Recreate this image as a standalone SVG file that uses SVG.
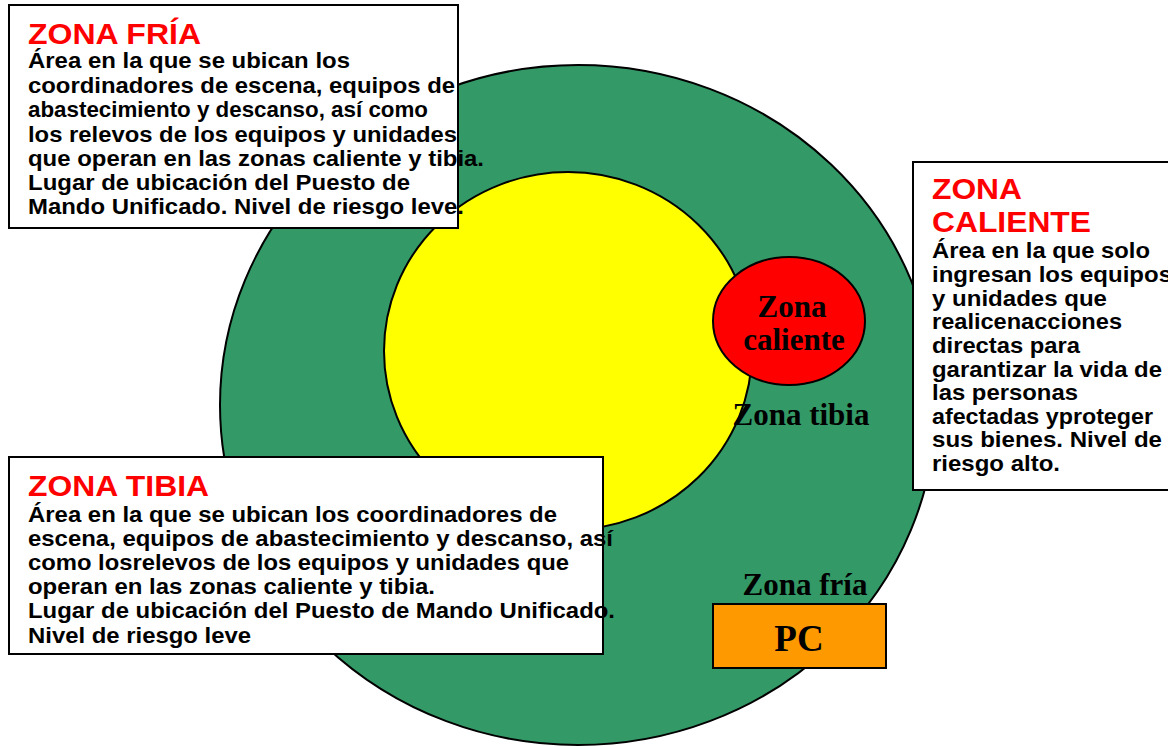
<svg xmlns="http://www.w3.org/2000/svg" width="1168" height="746" viewBox="0 0 1168 746">
<style>
.zone{stroke:#000;stroke-width:2}
.box{fill:#fff;stroke:#000;stroke-width:2}
.ttl{font-family:"Liberation Sans",Arial,sans-serif;font-weight:bold;font-size:29px;fill:#ff0000}
.body{font-family:"Liberation Sans",Arial,sans-serif;font-weight:bold;font-size:22px;fill:#000}
.lbl{font-family:"Liberation Serif","Times New Roman",serif;font-weight:bold;font-size:31px;fill:#000;text-anchor:middle}
</style>
<rect width="1168" height="746" fill="#fff"/>
<g id="zona-fria-circle"><ellipse class="zone" cx="578" cy="405" rx="358" ry="340" fill="#339966"/></g>
<g id="zona-tibia-circle"><ellipse class="zone" cx="568" cy="351" rx="184" ry="179" fill="#ffff00"/></g>
<g id="zona-caliente-node"><ellipse class="zone" cx="789" cy="321" rx="76" ry="64" fill="#ff0000"/>
<text class="lbl" x="792" y="317">Zona</text>
<text class="lbl" x="794" y="350">caliente</text></g>
<g id="label-tibia"><text class="lbl" x="801" y="425">Zona tibia</text></g>
<g id="label-fria"><text class="lbl" x="805" y="595">Zona fría</text></g>
<g id="pc"><rect x="713" y="604" width="173" height="64" fill="#ff9900" stroke="#000" stroke-width="2"/>
<text class="lbl" x="799" y="651" style="font-size:37px">PC</text></g>
<g id="box-fria">
<rect class="box" x="9" y="5" width="449" height="223"/>
<text class="ttl" x="28" y="44" textLength="173" lengthAdjust="spacingAndGlyphs">ZONA FRÍA</text>
<text class="body" x="28" y="68" textLength="322" lengthAdjust="spacingAndGlyphs">Área en la que se ubican los</text>
<text class="body" x="28" y="93" textLength="427" lengthAdjust="spacingAndGlyphs">coordinadores de escena, equipos de</text>
<text class="body" x="28" y="117" textLength="400" lengthAdjust="spacingAndGlyphs">abastecimiento y descanso, así como</text>
<text class="body" x="28" y="142" textLength="429" lengthAdjust="spacingAndGlyphs">los relevos de los equipos y unidades</text>
<text class="body" x="28" y="166" textLength="456" lengthAdjust="spacingAndGlyphs">que operan en las zonas caliente y tibia.</text>
<text class="body" x="28" y="190" textLength="382" lengthAdjust="spacingAndGlyphs">Lugar de ubicación del Puesto de</text>
<text class="body" x="28" y="214" textLength="436" lengthAdjust="spacingAndGlyphs">Mando Unificado. Nivel de riesgo leve.</text>
</g>
<g id="box-caliente">
<rect class="box" x="913" y="162" width="270" height="328"/>
<text class="ttl" x="932" y="199" textLength="90" lengthAdjust="spacingAndGlyphs">ZONA</text>
<text class="ttl" x="932" y="232" textLength="159" lengthAdjust="spacingAndGlyphs">CALIENTE</text>
<text class="body" x="932" y="258" textLength="218" lengthAdjust="spacingAndGlyphs">Área en la que solo</text>
<text class="body" x="932" y="282" textLength="240" lengthAdjust="spacingAndGlyphs">ingresan los equipos</text>
<text class="body" x="932" y="306" textLength="175" lengthAdjust="spacingAndGlyphs">y unidades que</text>
<text class="body" x="932" y="329" textLength="190" lengthAdjust="spacingAndGlyphs">realicenacciones</text>
<text class="body" x="932" y="353" textLength="148" lengthAdjust="spacingAndGlyphs">directas para</text>
<text class="body" x="932" y="377" textLength="230" lengthAdjust="spacingAndGlyphs">garantizar la vida de</text>
<text class="body" x="932" y="400" textLength="146" lengthAdjust="spacingAndGlyphs">las personas</text>
<text class="body" x="932" y="424" textLength="221" lengthAdjust="spacingAndGlyphs">afectadas yproteger</text>
<text class="body" x="932" y="447" textLength="230" lengthAdjust="spacingAndGlyphs">sus bienes. Nivel de</text>
<text class="body" x="932" y="471" textLength="128" lengthAdjust="spacingAndGlyphs">riesgo alto.</text>
</g>
<g id="box-tibia">
<rect class="box" x="9" y="457" width="594" height="197"/>
<text class="ttl" x="28" y="496" textLength="181" lengthAdjust="spacingAndGlyphs">ZONA TIBIA</text>
<text class="body" x="28" y="522" textLength="529" lengthAdjust="spacingAndGlyphs">Área en la que se ubican los coordinadores de</text>
<text class="body" x="28" y="546" textLength="585" lengthAdjust="spacingAndGlyphs">escena, equipos de abastecimiento y descanso, así</text>
<text class="body" x="28" y="570" textLength="541" lengthAdjust="spacingAndGlyphs">como losrelevos de los equipos y unidades que</text>
<text class="body" x="28" y="594" textLength="407" lengthAdjust="spacingAndGlyphs">operan en las zonas caliente y tibia.</text>
<text class="body" x="28" y="618" textLength="587" lengthAdjust="spacingAndGlyphs">Lugar de ubicación del Puesto de Mando Unificado.</text>
<text class="body" x="28" y="643" textLength="223" lengthAdjust="spacingAndGlyphs">Nivel de riesgo leve</text>
</g>
<g id="connectors"></g>
</svg>
